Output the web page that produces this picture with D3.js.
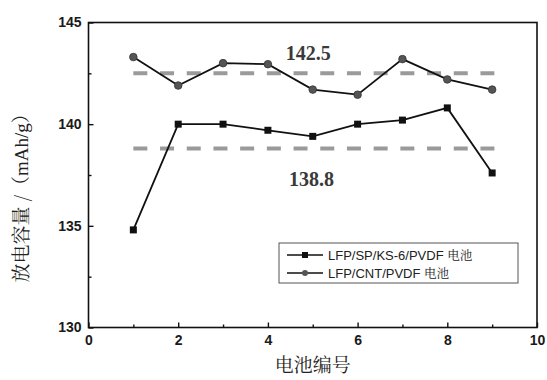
<!DOCTYPE html>
<html>
<head>
<meta charset="utf-8">
<script src="https://cdn.jsdelivr.net/npm/d3@7"></script>
<style>
  html, body { margin: 0; padding: 0; background: #fff; }
  svg { display: block; }
</style>
</head>
<body>
<svg id="chart" width="547" height="380"></svg>
<script>
// Cell numbers and discharge capacities (mAh/g)
const cellIds = [1, 2, 3, 4, 5, 6, 7, 8, 9];
const capacitySP = [134.8, 140.0, 140.0, 139.7, 139.4, 140.0, 140.2, 140.8, 137.6];
const capacityCNT = [143.3, 141.9, 143.0, 142.95, 141.7, 141.45, 143.2, 142.2, 141.7];
const averageSP = 138.8;
const averageCNT = 142.5;
const seriesNames = ["LFP/SP/KS-6/PVDF 电池", "LFP/CNT/PVDF 电池"];
const xTicks = [0, 2, 4, 6, 8, 10];
const yTicks = [130, 135, 140, 145];

const svg = d3.select("#chart");
const margin = { left: 88.5, right: 10, top: 22.5, bottom: 52.5 };
const W = 547, H = 380;
const x = d3.scaleLinear().domain([0, 10]).range([margin.left, W - margin.right]);
const y = d3.scaleLinear().domain([130, 145]).range([H - margin.bottom, margin.top]);

const sans = "Arial, 'Liberation Sans', sans-serif";
const serif = "'Times New Roman', 'Liberation Serif', serif";
const cjk = "'Noto Serif CJK SC', 'Noto Sans CJK SC', serif";

// Plot frame
svg.append("rect")
  .attr("x", x(0)).attr("y", y(145))
  .attr("width", x(10) - x(0)).attr("height", y(130) - y(145))
  .attr("fill", "none").attr("stroke", "#111").attr("stroke-width", 1.6);

// Bottom axis: inward ticks, major every 2, minor every 1
const xAxis = svg.append("g").attr("transform", `translate(0,${y(130)})`);
xAxis.call(d3.axisBottom(x).tickValues(xTicks).tickSize(-5).tickPadding(8).tickFormat(d3.format("d")));
xAxis.append("g").call(d3.axisBottom(x).tickValues([1, 3, 5, 7, 9]).tickSize(-3).tickFormat(""));
xAxis.selectAll(".domain").remove();

// Left axis: inward ticks, major every 5, minor every 2.5
const yAxis = svg.append("g").attr("transform", `translate(${x(0)},0)`);
yAxis.call(d3.axisLeft(y).tickValues(yTicks).tickSize(-5).tickPadding(7).tickFormat(d3.format("d")));
yAxis.append("g").call(d3.axisLeft(y).tickValues([132.5, 137.5, 142.5]).tickSize(-3).tickFormat(""));
yAxis.selectAll(".domain").remove();

svg.selectAll(".tick line").attr("stroke", "#111").attr("stroke-width", 1.4);
svg.selectAll(".tick text")
  .attr("font-family", sans).attr("font-size", 14).attr("font-weight", "bold").attr("fill", "#1a1a1a");

// Average lines
const avgLines = [averageCNT, averageSP];
svg.selectAll(".avg").data(avgLines).enter().append("line")
  .attr("class", "avg")
  .attr("x1", x(1)).attr("x2", x(9.05))
  .attr("y1", d => y(d)).attr("y2", d => y(d))
  .attr("stroke", "#9a9a9a").attr("stroke-width", 4)
  .attr("stroke-dasharray", "14,12.7");

// Average labels
svg.append("text")
  .attr("x", x(4.9)).attr("y", y(averageCNT) - 13)
  .attr("text-anchor", "middle")
  .attr("font-family", serif).attr("font-weight", "bold").attr("font-size", 20).attr("fill", "#3a3a3a")
  .text(averageCNT.toFixed(1));
svg.append("text")
  .attr("x", x(4.97)).attr("y", y(averageSP) + 37)
  .attr("text-anchor", "middle")
  .attr("font-family", serif).attr("font-weight", "bold").attr("font-size", 20).attr("fill", "#3a3a3a")
  .text(averageSP.toFixed(1));

// Series lines
const line = d3.line().x((d, i) => x(cellIds[i])).y(d => y(d));
[capacitySP, capacityCNT].forEach(vals => {
  svg.append("path").datum(vals)
    .attr("d", line)
    .attr("fill", "none").attr("stroke", "#111").attr("stroke-width", 1.8);
});

// Square markers
svg.selectAll(".sq").data(capacitySP).enter().append("rect")
  .attr("class", "sq")
  .attr("x", (d, i) => x(cellIds[i]) - 3.5).attr("y", d => y(d) - 3.5)
  .attr("width", 7).attr("height", 7).attr("fill", "#111");

// Circle markers
svg.selectAll(".ci").data(capacityCNT).enter().append("circle")
  .attr("class", "ci")
  .attr("cx", (d, i) => x(cellIds[i])).attr("cy", d => y(d))
  .attr("r", 3.8).attr("fill", "#555").attr("stroke", "#333").attr("stroke-width", 0.8);

// Legend
const lg = svg.append("g");
lg.append("rect").attr("x", 279).attr("y", 243).attr("width", 239).attr("height", 40)
  .attr("fill", "#fff").attr("stroke", "#555").attr("stroke-width", 1);
const rows = [
  { name: seriesNames[0], yy: 255, marker: "square" },
  { name: seriesNames[1], yy: 273, marker: "circle" }
];
rows.forEach(r => {
  lg.append("line").attr("x1", 287).attr("x2", 323).attr("y1", r.yy).attr("y2", r.yy)
    .attr("stroke", "#111").attr("stroke-width", 1.6);
  if (r.marker === "square") {
    lg.append("rect").attr("x", 302).attr("y", r.yy - 3).attr("width", 6).attr("height", 6).attr("fill", "#111");
  } else {
    lg.append("circle").attr("cx", 305).attr("cy", r.yy).attr("r", 3).attr("fill", "#555");
  }
  const parts = r.name.split(" ");
  const t = lg.append("text").attr("x", 328).attr("y", r.yy + 4.5)
    .attr("font-size", 13).attr("fill", "#222");
  t.append("tspan").attr("font-family", sans).text(parts[0] + " ");
  t.append("tspan").attr("font-family", cjk).attr("font-size", 12.5).text(parts[1]);
});

// Axis titles
svg.append("text")
  .attr("x", x(5)).attr("y", 372)
  .attr("text-anchor", "middle")
  .attr("font-family", cjk).attr("font-size", 19).attr("fill", "#222")
  .text("电池编号");

const yTitle = svg.append("text")
  .attr("transform", `translate(28,${y(136.6)}) rotate(-90)`)
  .attr("text-anchor", "middle")
  .attr("font-size", 19).attr("fill", "#222");
yTitle.append("tspan").attr("font-family", cjk).text("放电容量 /（");
yTitle.append("tspan").attr("font-family", serif).text("mAh/g");
yTitle.append("tspan").attr("font-family", cjk).text("）");
</script>
</body>
</html>
